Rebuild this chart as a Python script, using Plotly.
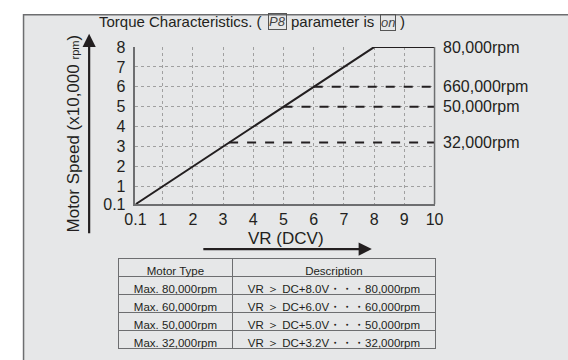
import plotly.graph_objects as go

W, H = 568, 360

# Speed curve: VR (DCV) vs motor speed (x10,000 rpm)
vr_curve = [0.1, 8.0, 10.0]
speed_curve = [0.1, 8.0, 8.0]

# Speed limits (dashed) and their labels
limit_vr = [6.0, 5.0, 3.2]
limit_speed = [6.0, 5.0, 3.2]
right_labels = ["80,000rpm", "660,000rpm", "50,000rpm", "32,000rpm"]
right_label_y = [8.0, 6.0, 5.0, 3.2]

x_ticks = [0.1, 1, 2, 3, 4, 5, 6, 7, 8, 9, 10]
y_ticks = [0.1, 1, 2, 3, 4, 5, 6, 7, 8]

NB = "\u00a0"  # keep table rows on one line
motor_types = ["Max. 80,000rpm", "Max. 60,000rpm", "Max. 50,000rpm", "Max. 32,000rpm"]
descriptions = [
    "VR ＞ DC+8.0V・・・80,000rpm",
    "VR ＞ DC+6.0V・・・60,000rpm",
    "VR ＞ DC+5.0V・・・50,000rpm",
    "VR ＞ DC+3.2V・・・32,000rpm",
]

FONT = "Liberation Sans, Arial, sans-serif"
INK = "#231f20"
PANEL = "#e6e7e8"


def px(x):
    return x / W


def py(y):
    return 1 - y / H


fig = go.Figure()

# Chart curve
fig.add_trace(go.Scatter(x=vr_curve, y=speed_curve, mode="lines",
                         line=dict(color=INK, width=2), hoverinfo="skip",
                         showlegend=False))

# Dashed speed-limit lines from the curve to the right edge
for v, s in zip(limit_vr, limit_speed):
    fig.add_trace(go.Scatter(x=[v, vr_curve[-1]], y=[s, s], mode="lines",
                             line=dict(color=INK, width=2, dash="dash"),
                             hoverinfo="skip", showlegend=False))

# Table of motor types
fig.add_trace(go.Table(
    domain=dict(x=[px(111), px(440)], y=[py(360), py(263)]),
    columnwidth=[119, 210],
    header=dict(values=["Motor Type", "Description"],
                fill_color=PANEL, line=dict(color="#6d6e70", width=1),
                font=dict(family=FONT, size=11.5, color=INK),
                align="center", height=18),
    cells=dict(values=[[t.replace(" ", NB) for t in motor_types],
                       [d.replace(" ", NB) for d in descriptions]],
               fill_color=PANEL, line=dict(color="#6d6e70", width=1),
               font=dict(family=FONT, size=11.5, color=INK),
               align="center", height=18),
))

shapes = [
    # grey panel with a border on its top and left
    dict(type="rect", xref="paper", yref="paper", x0=px(13), x1=1.05,
         y0=-0.05, y1=py(7), fillcolor=PANEL,
         line=dict(color="#6d6e70", width=1.5), layer="below"),
    # right frame of the plot area
    dict(type="line", xref="x domain", yref="y domain", x0=1, x1=1, y0=0, y1=1,
         line=dict(color="#6d6e70", width=1.5)),
]

annotations = []
for txt, yv in zip(right_labels, right_label_y):
    annotations.append(dict(x=vr_curve[-1], y=yv, xref="x", yref="y", text=txt,
                            showarrow=False, xanchor="left", xshift=6,
                            font=dict(family=FONT, size=16, color=INK)))

# Title pieces with boxed parameter glyphs
title_font = dict(family=FONT, size=15, color=INK)
annotations += [
    dict(x=px(262), y=py(14), xref="paper", yref="paper",
         text="Torque Characteristics. (", showarrow=False,
         xanchor="right", yanchor="middle", font=title_font),
    dict(x=px(276), y=py(14), xref="paper", yref="paper", text="<i>P8</i>",
         showarrow=False, xanchor="center", yanchor="middle",
         bordercolor="#555", borderwidth=1, borderpad=0,
         font=dict(family=FONT, size=13, color="#444")),
    dict(x=px(378), y=py(14), xref="paper", yref="paper",
         text="parameter is", showarrow=False,
         xanchor="right", yanchor="middle", font=title_font),
    dict(x=px(391), y=py(15), xref="paper", yref="paper", text="<i>on</i>",
         showarrow=False, xanchor="center", yanchor="middle",
         bordercolor="#555", borderwidth=1, borderpad=0,
         font=dict(family=FONT, size=13, color="#444")),
    dict(x=px(401), y=py(14), xref="paper", yref="paper", text=")",
         showarrow=False, xanchor="left", yanchor="middle", font=title_font),
]

# Axis titles
annotations += [
    dict(x=px(65), y=py(132), xref="paper", yref="paper",
         text="Motor Speed (x10,000 <span style='font-size:11px'>rpm</span>)",
         textangle=-90, showarrow=False, xanchor="center", yanchor="middle",
         font=dict(family=FONT, size=17, color=INK)),
    dict(x=px(285), y=py(242), xref="paper", yref="paper", text="VR (DCV)",
         showarrow=False, xanchor="center", yanchor="middle",
         font=dict(family=FONT, size=17, color=INK)),
]

# Axis direction arrows
annotations += [
    dict(x=px(81), y=py(27), xref="paper", yref="paper", ax=0, ay=201,
         axref="pixel", ayref="pixel", text="", showarrow=True,
         arrowhead=2, arrowsize=1.2, arrowwidth=2.2, arrowcolor=INK),
    dict(x=px(374), y=py(253), xref="paper", yref="paper", ax=-170, ay=0,
         axref="pixel", ayref="pixel", text="", showarrow=True,
         arrowhead=2, arrowsize=1.2, arrowwidth=2.2, arrowcolor=INK),
]

grid = dict(showgrid=True, gridcolor="#a0a0a0", gridwidth=1, griddash="dot",
            zeroline=False, showline=True, linecolor="#6d6e70", linewidth=1.5,
            ticks="", tickfont=dict(family=FONT, size=16, color=INK),
            fixedrange=True)

fig.update_layout(
    width=W, height=H,
    margin=dict(l=0, r=0, t=0, b=0),
    paper_bgcolor="white",
    plot_bgcolor=PANEL,
    showlegend=False,
    xaxis=dict(domain=[px(129), px(439)], range=[0.1, 10],
               tickvals=x_ticks, ticktext=[str(t) for t in x_ticks],
               **grid),
    yaxis=dict(domain=[py(206), py(41)], range=[0.1, 8],
               tickvals=y_ticks, ticktext=[str(t) for t in y_ticks],
               ticklabelstandoff=5, **grid),
    shapes=shapes,
    annotations=annotations,
)

fig.write_html("out.html")
